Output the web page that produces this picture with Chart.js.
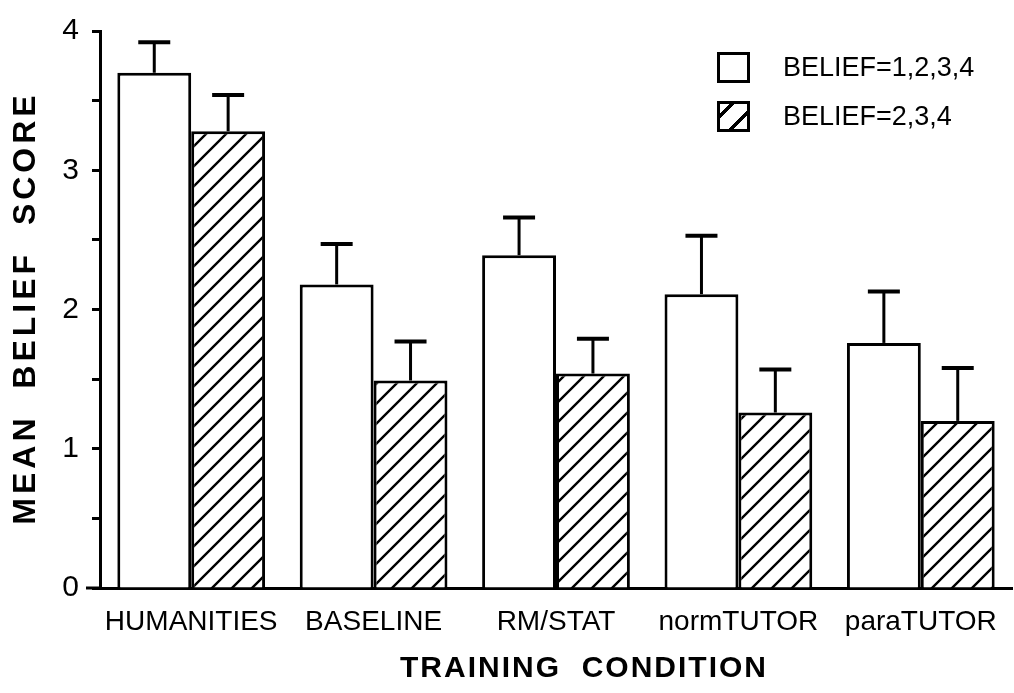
<!DOCTYPE html>
<html>
<head>
<meta charset="utf-8">
<script src="https://cdn.jsdelivr.net/npm/chart.js@4.4.1/dist/chart.umd.min.js"></script>
<style>
  html, body { margin: 0; padding: 0; background: #fff; overflow: hidden; }
  #wrap { position: relative; width: 1014px; height: 693px; }
  .legend { position: absolute; left: 717px; top: 52px; font-family: "Liberation Sans", Arial, sans-serif; font-size: 27px; color: #000; }
  .legend .row { display: flex; align-items: center; height: 30px; margin-bottom: 19px; }
  .legend .box { width: 27px; height: 25px; border: 3px solid #000; margin-right: 33px; background: #fff; }
  .legend .box.hatch { background: repeating-linear-gradient(135deg, #fff 0, #fff 7px, #000 7px, #000 10px, #fff 10px, #fff 17px); }
</style>
</head>
<body>
<div id="wrap">
  <canvas id="chart"></canvas>
  <div class="legend">
    <div class="row"><span class="box"></span>BELIEF=1,2,3,4</div>
    <div class="row"><span class="box hatch"></span>BELIEF=2,3,4</div>
  </div>
</div>
<script>
const categories = ['HUMANITIES', 'BASELINE', 'RM/STAT', 'normTUTOR', 'paraTUTOR']
const allBeliefs = [3.70, 2.18, 2.39, 2.11, 1.76]
const allBeliefsErr = [0.22, 0.29, 0.27, 0.42, 0.37]
const highBeliefs = [3.28, 1.49, 1.54, 1.26, 1.20]
const highBeliefsErr = [0.26, 0.28, 0.25, 0.31, 0.38]
const yTicks = [0, 1, 2, 3, 4]

const font = '"Liberation Sans", Arial, sans-serif'

function makeHatch() {
  const c = document.createElement('canvas')
  c.width = 20
  c.height = 20
  const x = c.getContext('2d')
  x.fillStyle = '#fff'
  x.fillRect(0, 0, 20, 20)
  x.strokeStyle = '#000'
  x.lineWidth = 2.4
  x.beginPath()
  x.moveTo(-5, 25); x.lineTo(25, -5)
  x.moveTo(-5, 5); x.lineTo(5, -5)
  x.moveTo(15, 25); x.lineTo(25, 15)
  x.stroke()
  return x.createPattern(c, 'repeat')
}

// error bars (upper only) drawn from the y scale
const errorBars = {
  id: 'errorBars',
  afterDatasetsDraw(chart) {
    const ctx = chart.ctx
    const y = chart.scales.y
    chart.data.datasets.forEach((ds, i) => {
      chart.getDatasetMeta(i).data.forEach((bar, j) => {
        const top = y.getPixelForValue(ds.data[j] + ds.errUp[j])
        ctx.save()
        ctx.strokeStyle = '#000'
        ctx.lineWidth = 3
        ctx.beginPath()
        ctx.moveTo(bar.x, bar.y)
        ctx.lineTo(bar.x, top)
        ctx.stroke()
        ctx.lineWidth = 4
        ctx.beginPath()
        ctx.moveTo(bar.x - 16, top)
        ctx.lineTo(bar.x + 16, top)
        ctx.stroke()
        ctx.restore()
      })
    })
  }
}

// spaced axis titles + short stub of the x axis left of the y axis
const axisTitles = {
  id: 'axisTitles',
  afterDraw(chart) {
    const ctx = chart.ctx
    const area = chart.chartArea
    ctx.save()
    ctx.strokeStyle = '#000'
    ctx.lineWidth = 3
    ctx.beginPath()
    ctx.moveTo(area.left - 14, area.bottom)
    ctx.lineTo(area.left, area.bottom)
    ctx.stroke()

    ctx.fillStyle = '#000'
    ctx.textAlign = 'center'
    ctx.textBaseline = 'middle'
    ctx.font = 'bold 30px ' + font
    ctx.letterSpacing = '2px'
    ctx.fillText('TRAINING  CONDITION', 584, 669)

    ctx.translate(26, 308)
    ctx.rotate(-Math.PI / 2)
    ctx.font = 'bold 32px ' + font
    ctx.letterSpacing = '4px'
    ctx.fillText('MEAN  BELIEF  SCORE', 0, 0)
    ctx.restore()
  }
}

const hatch = makeHatch()

new Chart(document.getElementById('chart'), {
  type: 'bar',
  data: {
    labels: categories,
    datasets: [{
      label: 'BELIEF=1,2,3,4',
      data: allBeliefs,
      errUp: allBeliefsErr,
      backgroundColor: '#fff',
      borderColor: '#000',
      borderWidth: 3,
      borderSkipped: 'bottom',
      categoryPercentage: 0.81,
      barPercentage: 1.0
    }, {
      label: 'BELIEF=2,3,4',
      data: highBeliefs,
      errUp: highBeliefsErr,
      backgroundColor: hatch,
      borderColor: '#000',
      borderWidth: 3,
      borderSkipped: 'bottom',
      categoryPercentage: 0.81,
      barPercentage: 1.0
    }]
  },
  options: {
    responsive: true,
    maintainAspectRatio: false,
    animation: false,
    layout: { padding: { top: 24, right: 2, left: 0, bottom: 0 } },
    plugins: {
      legend: { display: false },
      tooltip: { enabled: false }
    },
    scales: {
      x: {
        grid: { display: false, drawTicks: false },
        border: { display: true, color: '#000', width: 3 },
        ticks: {
          color: '#000',
          padding: 17,
          maxRotation: 0,
          autoSkip: false,
          font: { family: font, size: 28 }
        },
        afterFit(scale) { scale.height = 105 }
      },
      y: {
        min: 0,
        max: 4,
        grid: {
          drawOnChartArea: false,
          drawTicks: true,
          tickLength: 8,
          tickWidth: 3,
          tickColor: '#000'
        },
        border: { display: true, color: '#000', width: 3 },
        ticks: {
          stepSize: 0.5,
          color: '#000',
          padding: 13,
          font: { family: font, size: 30 },
          callback: (v) => yTicks.includes(v) ? String(v) : ''
        },
        afterFit(scale) { scale.width = 100 }
      }
    }
  },
  plugins: [errorBars, axisTitles]
})
</script>
</body>
</html>
